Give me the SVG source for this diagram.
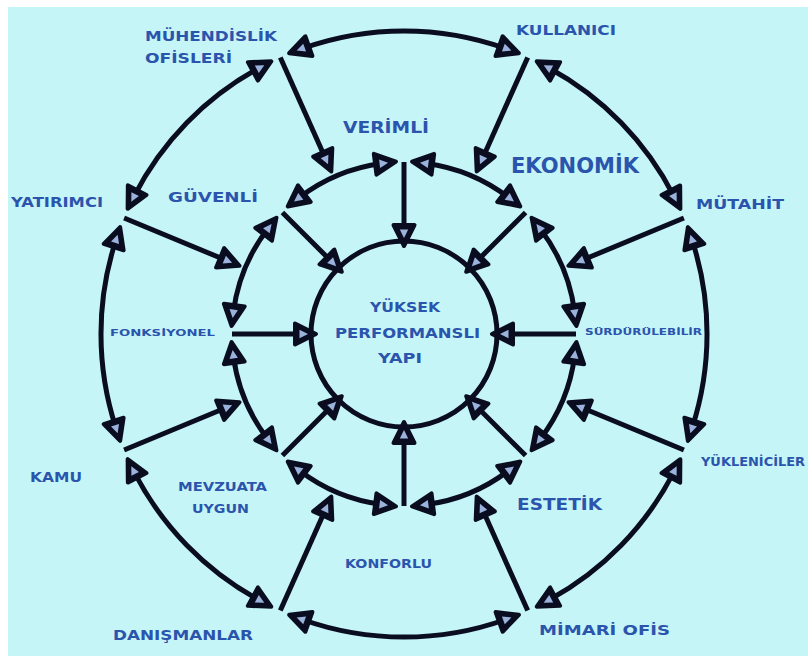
<svg xmlns="http://www.w3.org/2000/svg" width="808" height="661" viewBox="0 0 808 661">
  <defs>
    <style>
      .lbl { font-family: "DejaVu Sans", "Liberation Sans", sans-serif; font-weight: bold; fill: #2b54ad; }
      .ln { fill: none; stroke: #0a0d20; stroke-width: 5; stroke-linecap: butt; }
      .one { marker-end: url(#ah); }
      .two { marker-start: url(#ah); marker-end: url(#ah); }
    </style>
    <marker id="ah" viewBox="-26 -14 30 28" refX="-14" refY="0" markerWidth="30" markerHeight="28" markerUnits="userSpaceOnUse" orient="auto-start-reverse">
      <path d="M0,0 L-21,-10.5 L-21,10.5 Z" fill="#0a0d20" stroke="#0a0d20" stroke-width="4" stroke-linejoin="round"/>
      <path d="M-8,0 L-16.5,-4.2 L-16.5,4.2 Z" fill="#9ab2dc"/>
    </marker>
  </defs>

  <rect x="0" y="0" width="808" height="661" fill="#ffffff"/>
  <rect x="8" y="7" width="800" height="649" fill="#c6f5f7"/>

  <g id="connectors">
    <!-- inner circle -->
    <circle cx="404" cy="334" r="93" class="ln"/>

    <!-- outer ring arcs (double-headed) -->
    <path class="ln two" d="M302.3,48.5 A303,303 0 0 1 505.7,48.5"/>
    <path class="ln two" d="M549,68 A303,303 0 0 1 674,196.4"/>
    <path class="ln two" d="M692.2,240.4 A303,303 0 0 1 692.2,427.6"/>
    <path class="ln two" d="M674,471.6 A303,303 0 0 1 549,600"/>
    <path class="ln two" d="M505.7,619.5 A303,303 0 0 1 302.3,619.5"/>
    <path class="ln two" d="M259,600 A303,303 0 0 1 134,471.6"/>
    <path class="ln two" d="M115.8,427.6 A303,303 0 0 1 115.8,240.4"/>
    <path class="ln two" d="M134,196.4 A303,303 0 0 1 259,68"/>

    <!-- outer radial arrows to middle ring -->
    <path class="ln one" d="M280.3,57.4 L325.6,158.7"/>
    <path class="ln one" d="M527.7,57.4 L482.4,158.7"/>
    <path class="ln one" d="M683.9,218 L581.4,260.5"/>
    <path class="ln one" d="M683.9,450 L581.4,407.5"/>
    <path class="ln one" d="M527.7,610.6 L482.4,509.3"/>
    <path class="ln one" d="M280.3,610.6 L325.6,509.3"/>
    <path class="ln one" d="M124.1,450 L226.6,407.5"/>
    <path class="ln one" d="M124.1,218 L226.6,260.5"/>

    <!-- middle ring arcs (double-headed) -->
    <path class="ln two" d="M540.1,228.8 A172,172 0 0 1 574.6,312.1"/>
    <path class="ln two" d="M425.9,163.4 A172,172 0 0 1 509.2,197.9"/>
    <path class="ln two" d="M298.8,197.9 A172,172 0 0 1 382.1,163.4"/>
    <path class="ln two" d="M233.4,312.1 A172,172 0 0 1 267.9,228.8"/>
    <path class="ln two" d="M267.9,439.2 A172,172 0 0 1 233.4,355.9"/>
    <path class="ln two" d="M382.1,504.6 A172,172 0 0 1 298.8,470.1"/>
    <path class="ln two" d="M509.2,470.1 A172,172 0 0 1 425.9,504.6"/>
    <path class="ln two" d="M574.6,355.9 A172,172 0 0 1 540.1,439.2"/>

    <!-- middle radial arrows to inner circle -->
    <path class="ln one" d="M576,334 L506,334"/>
    <path class="ln one" d="M525.6,212.4 L476.1,261.9"/>
    <path class="ln one" d="M404,162 L404,232"/>
    <path class="ln one" d="M282.4,212.4 L331.9,261.9"/>
    <path class="ln one" d="M232,334 L302,334"/>
    <path class="ln one" d="M282.4,455.6 L331.9,406.1"/>
    <path class="ln one" d="M404,506 L404,436"/>
    <path class="ln one" d="M525.6,455.6 L476.1,406.1"/>
  </g>

  <g id="center">
    <text class="lbl" x="370" y="312" font-size="14" textLength="70" lengthAdjust="spacingAndGlyphs">YÜKSEK</text>
    <text class="lbl" x="335" y="338" font-size="14" textLength="145" lengthAdjust="spacingAndGlyphs">PERFORMANSLI</text>
    <text class="lbl" x="378" y="363" font-size="14" textLength="44" lengthAdjust="spacingAndGlyphs">YAPI</text>
  </g>

  <g id="verimli"><text class="lbl" x="343" y="133" font-size="15" textLength="86" lengthAdjust="spacingAndGlyphs">VERİMLİ</text></g>
  <g id="ekonomik"><text class="lbl" x="511" y="173" font-size="21" style="font-weight:600" textLength="128" lengthAdjust="spacingAndGlyphs">EKONOMİK</text></g>
  <g id="surdurulebilir"><text class="lbl" x="585" y="335" font-size="8" textLength="117" lengthAdjust="spacingAndGlyphs">SÜRDÜRÜLEBİLİR</text></g>
  <g id="estetik"><text class="lbl" x="517" y="510" font-size="15" textLength="85" lengthAdjust="spacingAndGlyphs">ESTETİK</text></g>
  <g id="konforlu"><text class="lbl" x="345" y="568" font-size="12" textLength="87" lengthAdjust="spacingAndGlyphs">KONFORLU</text></g>
  <g id="mevzuata-uygun">
    <text class="lbl" x="178" y="491" font-size="13" textLength="89" lengthAdjust="spacingAndGlyphs">MEVZUATA</text>
    <text class="lbl" x="192" y="513" font-size="13" textLength="57" lengthAdjust="spacingAndGlyphs">UYGUN</text>
  </g>
  <g id="fonksiyonel"><text class="lbl" x="110" y="336" font-size="9.5" textLength="105" lengthAdjust="spacingAndGlyphs">FONKSİYONEL</text></g>
  <g id="guvenli"><text class="lbl" x="168" y="202" font-size="14" textLength="90" lengthAdjust="spacingAndGlyphs">GÜVENLİ</text></g>

  <g id="muhendislik-ofisleri">
    <text class="lbl" x="145" y="41" font-size="14" textLength="132" lengthAdjust="spacingAndGlyphs">MÜHENDİSLİK</text>
    <text class="lbl" x="145" y="63" font-size="14" textLength="87" lengthAdjust="spacingAndGlyphs">OFİSLERİ</text>
  </g>
  <g id="kullanici"><text class="lbl" x="516" y="35" font-size="14" textLength="100" lengthAdjust="spacingAndGlyphs">KULLANICI</text></g>
  <g id="mutahit"><text class="lbl" x="696" y="209" font-size="14" textLength="88" lengthAdjust="spacingAndGlyphs">MÜTAHİT</text></g>
  <g id="yukleniciler"><text class="lbl" x="701" y="466" font-size="13" textLength="104" lengthAdjust="spacingAndGlyphs">YÜKLENİCİLER</text></g>
  <g id="mimari-ofis"><text class="lbl" x="539" y="635" font-size="14" textLength="131" lengthAdjust="spacingAndGlyphs">MİMARİ OFİS</text></g>
  <g id="danismanlar"><text class="lbl" x="113" y="640" font-size="14" textLength="140" lengthAdjust="spacingAndGlyphs">DANIŞMANLAR</text></g>
  <g id="kamu"><text class="lbl" x="30" y="482" font-size="14" textLength="52" lengthAdjust="spacingAndGlyphs">KAMU</text></g>
  <g id="yatirimci"><text class="lbl" x="11" y="207" font-size="14" textLength="92" lengthAdjust="spacingAndGlyphs">YATIRIMCI</text></g>
</svg>
